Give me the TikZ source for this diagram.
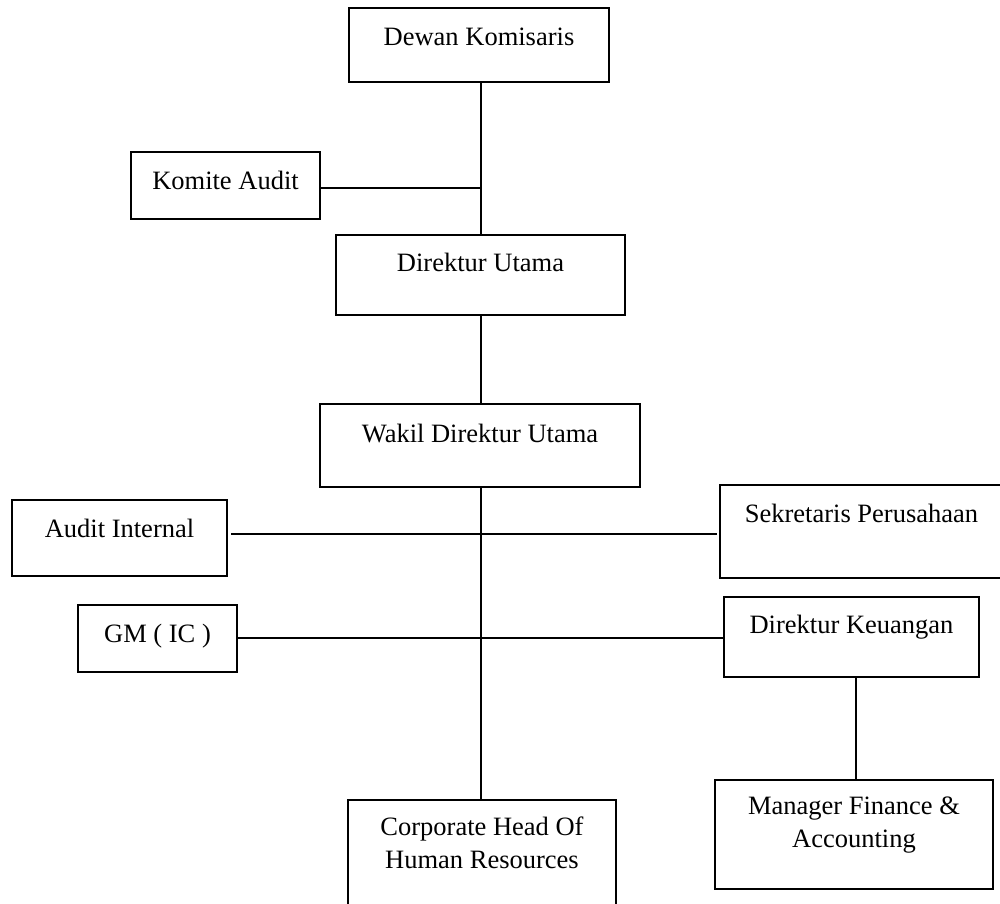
\documentclass[tikz,border=0pt]{standalone}
\usepackage{fontspec}
\setmainfont{Liberation Serif}
\begin{document}
\begin{tikzpicture}[x=1pt,y=-1pt,
  orgbox/.style={draw=black, line width=1.6pt, rectangle, inner sep=0pt, outer sep=0pt},
  caption/.style={anchor=base, inner sep=0pt, outer sep=0pt, align=center,
    font=\fontsize{26.5}{33}\selectfont},
  link/.style={draw=black, line width=1.6pt}]
\useasboundingbox (0,0) rectangle (1000,903);
\clip (0,0) rectangle (1000,903);

% boxes: position = centre, size in px
\node[orgbox, minimum width=260, minimum height=74]  (dewan)  at (479,45)    {};
\node[orgbox, minimum width=189, minimum height=67]  (komite) at (225.5,185.5) {};
\node[orgbox, minimum width=289, minimum height=80]  (dirut)  at (480.5,275) {};
\node[orgbox, minimum width=320, minimum height=83]  (wakil)  at (480,445.5) {};
\node[orgbox, minimum width=215, minimum height=76]  (audit)  at (119.5,538) {};
\node[orgbox, minimum width=283, minimum height=93]  (sekr)   at (861.5,531.5) {};
\node[orgbox, minimum width=159, minimum height=67]  (gm)     at (157.5,638.5) {};
\node[orgbox, minimum width=255, minimum height=80]  (dirkeu) at (851.5,637) {};
\node[orgbox, minimum width=278, minimum height=109] (mgr)    at (854,834.5) {};
\node[orgbox, minimum width=268, minimum height=120] (hr)     at (482,860)   {};

% captions, placed on the baseline of their last line
\node[caption] (tdewan)  at (479,45)     {Dewan Komisaris};
\node[caption] (tkomite) at (225.5,189)  {Komite Audit};
\node[caption] (tdirut)  at (480.5,271)  {Direktur Utama};
\node[caption] (twakil)  at (480,442)    {Wakil Direktur Utama};
\node[caption] (taudit)  at (119.5,537)  {Audit Internal};
\node[caption] (tsekr)   at (861.5,522)  {Sekretaris Perusahaan};
\node[caption] (tgm)     at (157.5,642)  {GM ( IC )};
\node[caption] (tdirkeu) at (851.5,633)  {Direktur Keuangan};
\node[caption] (tmgr)    at (854,847)    {Manager Finance \&\\Accounting};
\node[caption] (thr)     at (482,868)    {Corporate Head Of\\Human Resources};

% main vertical spine
\coordinate (spine) at (481,0);
\draw[link] (dewan.south -| spine) -- (dirut.north -| spine);
\coordinate (kline) at (0,188);
\draw[link] (komite.east |- kline) -- (spine |- kline);
\draw[link] (dirut.south -| spine) -- (wakil.north -| spine);
\draw[link] (wakil.south -| spine) -- (hr.north -| spine);

% staff line with small gaps at both ends
\coordinate (auditend) at (231,534);
\coordinate (sekrend)  at (717,534);
\draw[link] (auditend) -- (sekrend);

% GM to Direktur Keuangan
\coordinate (gline) at (0,638);
\draw[link] (gm.east |- gline) -- (dirkeu.west |- gline);

% Direktur Keuangan to Manager Finance
\coordinate (finspine) at (856,0);
\draw[link] (dirkeu.south -| finspine) -- (mgr.north -| finspine);
\end{tikzpicture}
\end{document}
